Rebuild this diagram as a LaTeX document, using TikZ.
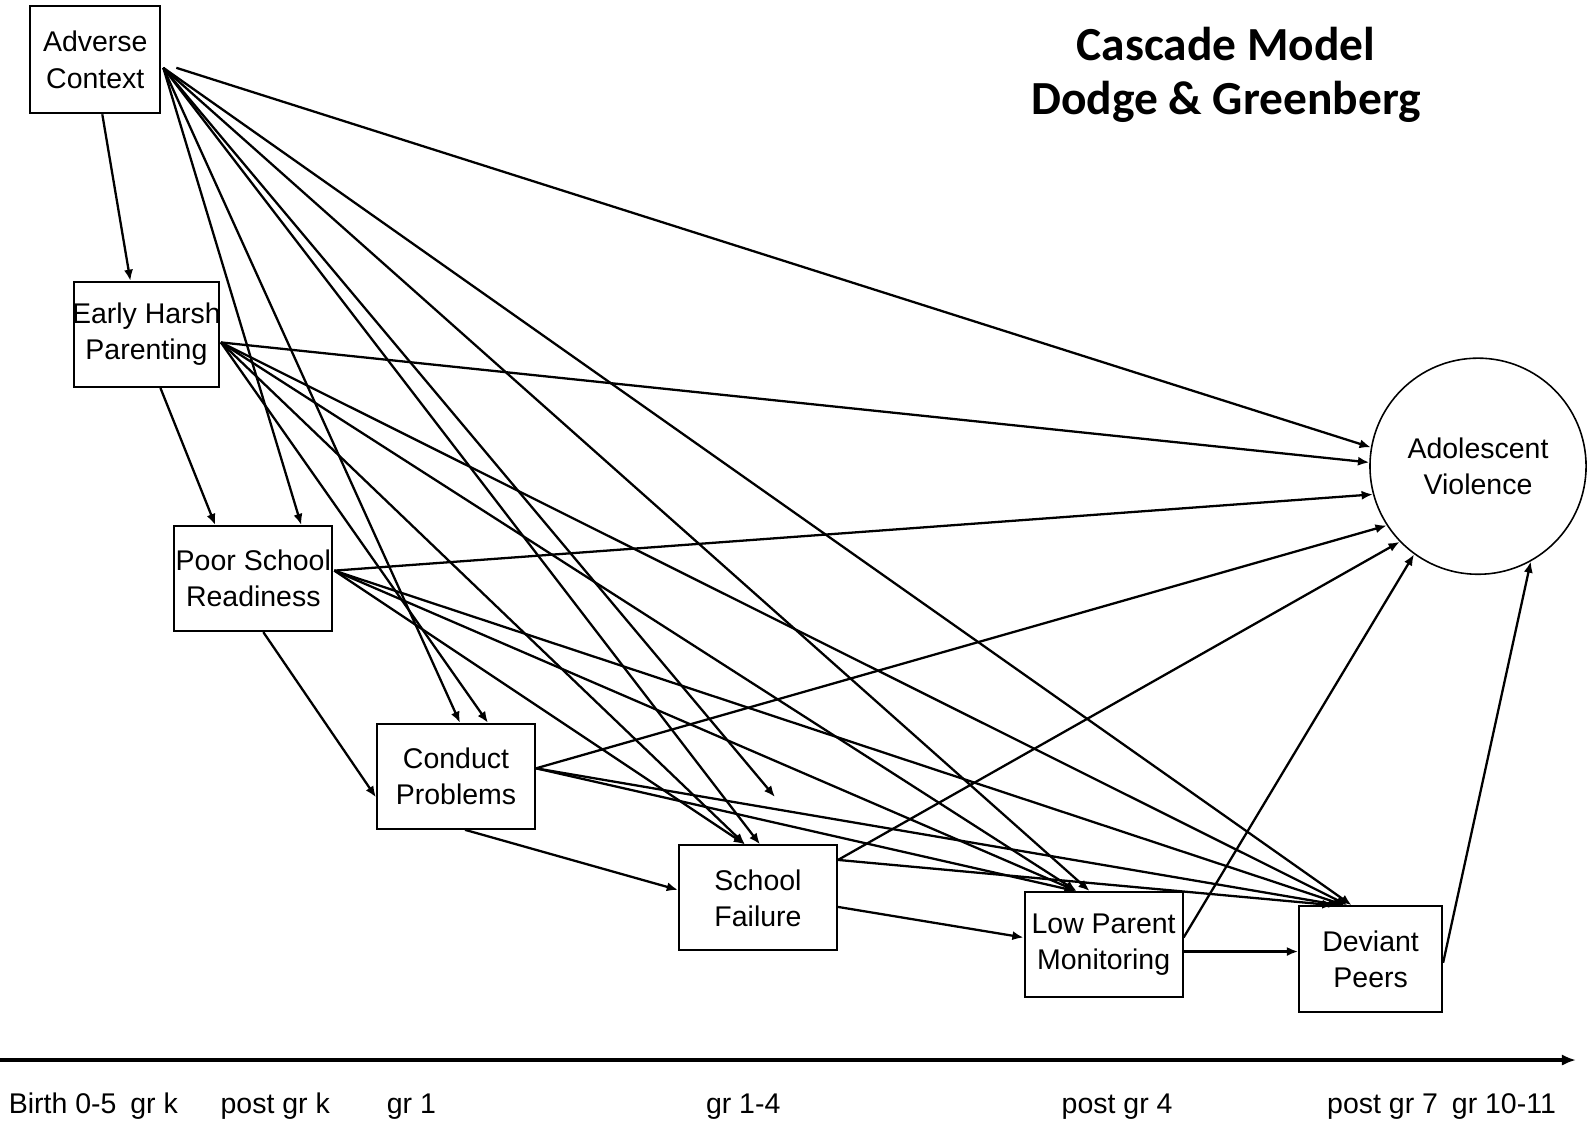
\documentclass[tikz,border=0pt]{standalone}
\usepackage{fontspec}
\setmainfont{Liberation Sans}
\newfontfamily\titlefont{Carlito}
\usetikzlibrary{arrows.meta,calc}

\begin{document}
\begin{tikzpicture}[x=0.01cm,y=-0.01cm,
    box/.style={draw, line width=0.55pt, inner sep=0pt, minimum width=1.58cm, minimum height=1.05cm, align=center, font=\fontsize{8.1}{10.3}\selectfont},
    arr/.style={-{Latex[length=3.2pt,width=2.6pt]}, line width=0.65pt},
    lbl/.style={anchor=base west, inner sep=0pt, font=\fontsize{8.1}{10}\selectfont}]

	\useasboundingbox (0,0) rectangle (1589,1123);

	\node[font={\titlefont\bfseries\fontsize{13.5}{15.3}\selectfont}, align=center] (title) at (1226,74.5) {Cascade Model\\Dodge \& Greenberg};

	\node[box, minimum width=1.3cm, minimum height=1.07cm] (ac) at (95.3,59.8) {Adverse\\Context};
	\node[box, minimum width=1.45cm] (ehp) at (146.4,334.4) {\makebox[1.4cm]{Early Harsh}\\Parenting};
	\node[box] (psr) at (253.3,578.6) {Poor School\\Readiness};
	\node[box] (cp) at (456,776.3) {Conduct\\Problems};
	\node[box] (sf) at (758,897.9) {School\\Failure};
	\node[box] (lpm) at (1103.6,944.5) {Low Parent\\Monitoring};
	\node[box, minimum width=1.43cm, minimum height=1.06cm] (dp) at (1370.6,959.2) {Deviant\\Peers};
	\node[draw, circle, line width=0.45pt, minimum size=2.16cm, inner sep=0pt, align=center, font=\fontsize{8.1}{10.3}\selectfont] (av) at (1478,466.2) {Adolescent\\Violence};

	\coordinate (ac-out) at ($(ac.east)+(2,8)$);
	\coordinate (ehp-out) at ($(ehp.east)+(1,8)$);
	\coordinate (psr-out) at ($(psr.east)+(1,-8)$);
	\coordinate (cp-out) at ($(cp.east)+(0,-8)$);
	\coordinate (sf-out) at ($(sf.east)+(0,-38)$);
	\coordinate (loose) at (775,797);

	\draw[arr] ($(ac.south)+(7,0)$) -- ($(ehp.north)+(-16,0)$);
	\draw[arr] (ac-out) -- ($(psr.north)+(48,0)$);
	\draw[arr] (ac-out) -- ($(cp.north)+(4,0)$);
	\draw[arr] (ac-out) -- ($(sf.north)+(2,0)$);
	\draw[arr] (ac-out) -- (loose);
	\draw[arr] (ac-out) -- ($(lpm.north)+(-14,0)$);
	\draw[arr] (ac-out) -- ($(dp.north)+(-19,0)$);
	\draw[arr] ($(ac.east)+(15,8)$) -- (av.170);

	\draw[arr] ($(ehp.south)+(14,0)$) -- ($(psr.north)+(-38,0)$);
	\draw[arr] (ehp-out) -- ($(cp.north)+(32,0)$);
	\draw[arr] (ehp-out) -- ($(sf.north)+(-13,0)$);
	\draw[arr] (ehp-out) -- ($(lpm.north)+(-27,0)$);
	\draw[arr] (ehp-out) -- ($(dp.north)+(-23,0)$);
	\draw[arr] (ehp-out) -- (av.178);

	\draw[arr] ($(psr.south)+(10,0)$) -- ($(cp.west)+(0,21)$);
	\draw[arr] (psr-out) -- ($(sf.north)+(-13,0)$);
	\draw[arr] (psr-out) -- ($(lpm.north)+(-27,0)$);
	\draw[arr] (psr-out) -- ($(dp.north)+(-26,0)$);
	\draw[arr] (psr-out) -- (av.195);

	\draw[arr] ($(cp.south)+(9,0)$) -- ($(sf.west)+(0,-8)$);
	\draw[arr] (cp-out) -- ($(lpm.north)+(-28,0)$);
	\draw[arr] (cp-out) -- ($(dp.north)+(-31,0)$);
	\draw[arr] (cp-out) -- (av.213);

	\draw[arr] ($(sf.east)+(0,9)$) -- ($(lpm.west)+(0,-7)$);
	\draw[arr] (sf-out) -- ($(dp.north)+(-37,0)$);
	\draw[arr] (sf-out) -- (av.224);

	\draw[arr] ($(lpm.east)+(0,7)$) -- ($(dp.west)+(0,-7.7)$);
	\draw[arr] ($(lpm.east)+(0,-7)$) -- (av.234);

	\draw[arr] ($(dp.east)+(0,3.5)$) -- (av.299);

	\coordinate (tl-start) at (0,1060);
	\coordinate (tl-end) at (1576,1060);
	\draw[line width=0.9pt, -{Latex[length=4pt,width=3.2pt]}] (tl-start) -- (tl-end);

	\node[lbl] (t-birth) at (8.1,1113) {Birth 0-5};
	\node[lbl] (t-grk) at (129.7,1113) {gr k};
	\node[lbl] (t-postk) at (219.9,1113) {post gr k};
	\node[lbl] (t-gr1) at (386.1,1113) {gr 1};
	\node[lbl] (t-gr14) at (705.3,1113) {gr 1-4};
	\node[lbl] (t-post4) at (1061,1113) {post gr 4};
	\node[lbl] (t-post7) at (1326.5,1113) {post gr 7};
	\node[lbl] (t-gr1011) at (1451.2,1113) {gr 10-11};

\end{tikzpicture}
\end{document}
